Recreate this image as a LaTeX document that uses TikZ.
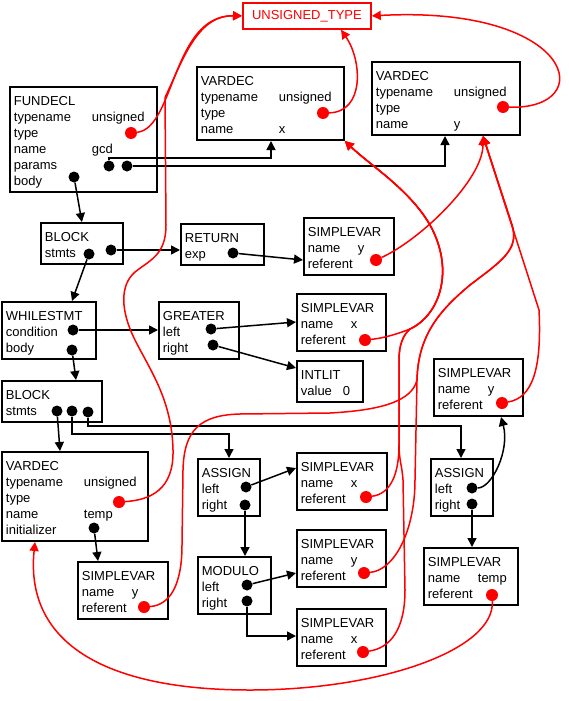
\documentclass[tikz,border=0pt]{standalone}
\usepackage{fontspec}
\setmainfont{Liberation Sans}
\usetikzlibrary{arrows.meta,calc}

% one field of a node: label, then its value in a second column
\newcommand{\fld}[3][50pt]{\makebox[#1][l]{#2}#3}

\tikzset{
  astbox/.style={draw, line width=1.8pt, anchor=north west, align=left,
    inner sep=4pt, text width=#1,
    font=\fontsize{13pt}{16pt}\selectfont,
    execute at begin node={\rule{0pt}{14.5pt}},
    execute at end node={\rule[-2.7pt]{0pt}{2.7pt}}},
  typebox/.style={draw=red, text=red, line width=1.8pt, anchor=north west,
    minimum width=128pt, minimum height=26pt, inner sep=0pt,
    font=\fontsize{13pt}{16pt}\selectfont},
  pdot/.style={circle, fill=black, inner sep=0pt, minimum size=11pt},
  rdot/.style={circle, fill=red, inner sep=0pt, minimum size=12pt},
  ptr/.style={line width=1.5pt, -{Triangle[length=9pt,width=9pt]}},
  ref/.style={red, line width=1.5pt, -{Triangle[length=9pt,width=9pt]}},
}

\begin{document}
\begin{tikzpicture}[x=1pt, y=-1pt]
      \useasboundingbox (0,0) rectangle (568,701);
      % UNSIGNED_TYPE:
      %   the one type entry all the declarations point to
      \node[typebox] (utype) at (242,2) {UNSIGNED\_TYPE};
      % FUNDECL:
      %   the function gcd itself
      \node[astbox=139pt] (fundecl) at (9,86) {FUNDECL\\ \fld[78pt]{typename}{unsigned}\\ type\\ \fld[78pt]{name}{gcd}\\ params\\ body};
      \node[rdot] (fdtype) at (131,133) {};
      \node[pdot] (fdparA) at (109,166) {};
      \node[pdot] (fdparB) at (127,166) {};
      \node[pdot] (fdbody) at (74,177) {};
      % VARDEC x, VARDEC y:
      %   the two parameters
      \node[astbox=139pt] (vardecx) at (196,66) {VARDEC\\ \fld[78pt]{typename}{unsigned}\\ type\\ \fld[78pt]{name}{x}};
      \node[rdot] (vxtype) at (323,113) {};
      \node[astbox=140pt] (vardecy) at (371,61) {VARDEC\\ \fld[78pt]{typename}{unsigned}\\ type\\ \fld[78pt]{name}{y}};
      \node[rdot] (vytype) at (503,107) {};
      \coordinate (vxin) at (vardecx.south east);
      \coordinate (vyin) at ($(vardecy.south west)+(112,0)$);
      % BLOCK:
      %   function body
      \node[astbox=74pt] (block1) at (40,222) {BLOCK\\ stmts};
      \node[pdot] (b1stA) at (89,254) {};
      \node[pdot] (b1stB) at (111,250) {};
      % RETURN:
      \node[astbox=75pt] (return) at (180,223) {RETURN\\ exp};
      \node[pdot] (rtexp) at (233,253) {};
      \node[astbox=82pt] (svA) at (303,217) {SIMPLEVAR\\ \fld{name}{y}\\ referent};
      \node[rdot] (svAref) at (376,260) {};
      % WHILESTMT:
      %   the loop, with its test x > 0
      \node[astbox=86pt] (while) at (1,301) {WHILESTMT\\ condition\\ body};
      \node[pdot] (wcond) at (73,330) {};
      \node[pdot] (wbody) at (72,350) {};
      \node[astbox=72pt] (greater) at (158,301) {GREATER\\ left\\ right};
      \node[pdot] (grleft) at (211,329) {};
      \node[pdot] (grright) at (213,345) {};
      \node[astbox=81pt] (svB) at (296,293) {SIMPLEVAR\\ \fld{name}{x}\\ referent};
      \node[rdot] (svBref) at (365,340) {};
      \node[astbox=58pt] (intlit) at (296,360) {INTLIT\\ \fld[42pt]{value}{0}};
      % BLOCK:
      %   loop body, three statements
      \node[astbox=92pt] (block2) at (1,380) {BLOCK\\ stmts};
      \node[pdot] (b2stA) at (57,411) {};
      \node[pdot] (b2stB) at (72,411) {};
      \node[pdot] (b2stC) at (88,412) {};
      % VARDEC temp:
      \node[astbox=138pt] (vardect) at (1,451) {VARDEC\\ \fld[78pt]{typename}{unsigned}\\ type\\ \fld[78pt]{name}{temp}\\ initializer};
      \node[rdot] (vttype) at (119,502) {};
      \node[pdot] (vtinit) at (94,528) {};
      \node[astbox=82pt] (svF) at (77,561) {SIMPLEVAR\\ \fld{name}{y}\\ referent};
      \node[rdot] (svFref) at (144,607) {};
      % ASSIGN:
      %   x = y % x
      \node[astbox=54pt] (assign1) at (197,458) {ASSIGN\\ left\\ right};
      \node[pdot] (a1left) at (246,487) {};
      \node[pdot] (a1right) at (245,505) {};
      \node[astbox=82pt] (svC) at (296,452) {SIMPLEVAR\\ \fld{name}{x}\\ referent};
      \node[rdot] (svCref) at (366,497) {};
      \node[astbox=65pt] (modulo) at (197,556) {MODULO\\ left\\ right};
      \node[pdot] (mdleft) at (247,585) {};
      \node[pdot] (mdright) at (247,601) {};
      \node[astbox=81pt] (svD) at (296,529) {SIMPLEVAR\\ \fld{name}{y}\\ referent};
      \node[rdot] (svDref) at (364,573) {};
      \node[astbox=81pt] (svE) at (296,608) {SIMPLEVAR\\ \fld{name}{x}\\ referent};
      \node[rdot] (svEref) at (363,652) {};
      % ASSIGN:
      %   y = temp
      \node[astbox=54pt] (assign2) at (430,458) {ASSIGN\\ left\\ right};
      \node[pdot] (a2left) at (472,488) {};
      \node[pdot] (a2right) at (472,504) {};
      \node[astbox=81pt] (svG) at (433,358) {SIMPLEVAR\\ \fld{name}{y}\\ referent};
      \node[rdot] (svGref) at (502,403) {};
      \node[astbox=86pt] (svH) at (423,547) {SIMPLEVAR\\ \fld{name}{temp}\\ referent};
      \node[rdot] (svHref) at (492,595) {};

      % tree pointers
      \draw[ptr] (fdparA) -- ++(0,-8) -| ($(vardecx.south west)+(75,0)$);
      \draw[ptr] (fdparB) -| ($(vardecy.south west)+(74,0)$);
      \draw[ptr] (fdbody) -- (block1.north);
      \draw[ptr] (b1stB) -- (b1stB -| return.west);
      \draw[ptr] (rtexp) -- ($(svA.north west)+(0,43)$);
      \draw[ptr] (b1stA) -- ($(while.north west)+(71,0)$);
      \draw[ptr] (wcond) -- (wcond -| greater.west);
      \draw[ptr] (grleft) -- ($(svB.north west)+(0,29)$);
      \draw[ptr] (grright) -- ($(intlit.north west)+(0,8)$);
      \draw[ptr] (wbody) -- ($(block2.north west)+(75,0)$);
      \draw[ptr] (b2stA) -- ($(vardect.north west)+(59,0)$);
      \draw[ptr] (b2stB) -- ++(0,23) -| ($(assign1.north west)+(32,0)$);
      \draw[ptr] (b2stC) -- ++(0,14) -| ($(assign2.north west)+(31,0)$);
      \draw[ptr] (vtinit) -- ($(svF.north west)+(21,0)$);
      \draw[ptr] (a1left) -- ($(svC.north west)+(0,16)$);
      \draw[ptr] (a1right) -- (a1right |- modulo.north);
      \draw[ptr] (mdleft) -- ($(svD.north west)+(0,44)$);
      \draw[ptr] (mdright) |- ($(svE.north west)+(0,28)$);
      \draw[ptr] (a2right) -- (a2right |- svH.north);
      \draw[ptr] (a2left) .. controls (492,488) and (510,450) .. ($(svG.south west)+(68,0)$);

      % types and referents
      \draw[ref] (fdtype) .. controls (175,128) and (172,15) .. (utype.west);
      \draw[ref] (vttype) .. controls (150,500) and (174,490) .. (173,450)
        .. controls (172,400) and (150,370) .. (135,340)
        .. controls (120,310) and (120,285) .. (135,272)
        .. controls (150,260) and (166,255) .. (166,225) -- (165,97.5)
        .. controls (181.8,62.7) and (196.5,15) .. (utype.west);
      \draw[ref] (vxtype) .. controls (365,112) and (362,60) .. ($(utype.south west)+(99,0)$);
      \draw[ref] (vytype) .. controls (600,110) and (575,5) .. (utype.east);
      \draw[ref] (svAref) .. controls (420,240) and (483,180) .. (vyin);
      \draw[ref] (svGref) .. controls (532,398) and (542,370) .. (539,310) -- (vyin);
      \draw[ref] (svDref) .. controls (395,570) and (415,530) .. (415,480) -- (417,380)
        .. controls (418,335) and (440,310) .. (470,285)
        .. controls (500,262) and (520,250) .. (512,225) -- (vyin);
      \draw[ref] (svFref) .. controls (170,605) and (182,585) .. (182,545) -- (183,470)
        .. controls (184,430) and (200,415) .. (240,414) -- (330,413)
        .. controls (385,410) and (412,400) .. (417,380)
        .. controls (418,335) and (440,310) .. (470,285)
        .. controls (500,262) and (520,250) .. (512,225) -- (vyin);
      \draw[ref] (svBref) .. controls (385,338) and (400,333) .. (410,329)
        .. controls (440,315) and (455,270) .. (430,225)
        .. controls (410,190) and (370,165) .. (vxin);
      \draw[ref] (svCref) .. controls (390,494) and (399,475) .. (399,445) -- (399,360)
        .. controls (399,345) and (403,335) .. (410,329)
        .. controls (440,315) and (455,270) .. (430,225)
        .. controls (410,190) and (370,165) .. (vxin);
      \draw[ref] (svEref) .. controls (390,648) and (405,630) .. (405,590) -- (403,480)
        .. controls (402,465) and (399,460) .. (399,445) -- (399,360)
        .. controls (399,345) and (403,335) .. (410,329)
        .. controls (440,315) and (455,270) .. (430,225)
        .. controls (410,190) and (370,165) .. (vxin);
      \draw[ref] (svHref) .. controls (495,650) and (380,690) .. (250,690)
        .. controls (100,690) and (25,640) .. ($(vardect.south west)+(34,0)$);
\end{tikzpicture}
\end{document}
